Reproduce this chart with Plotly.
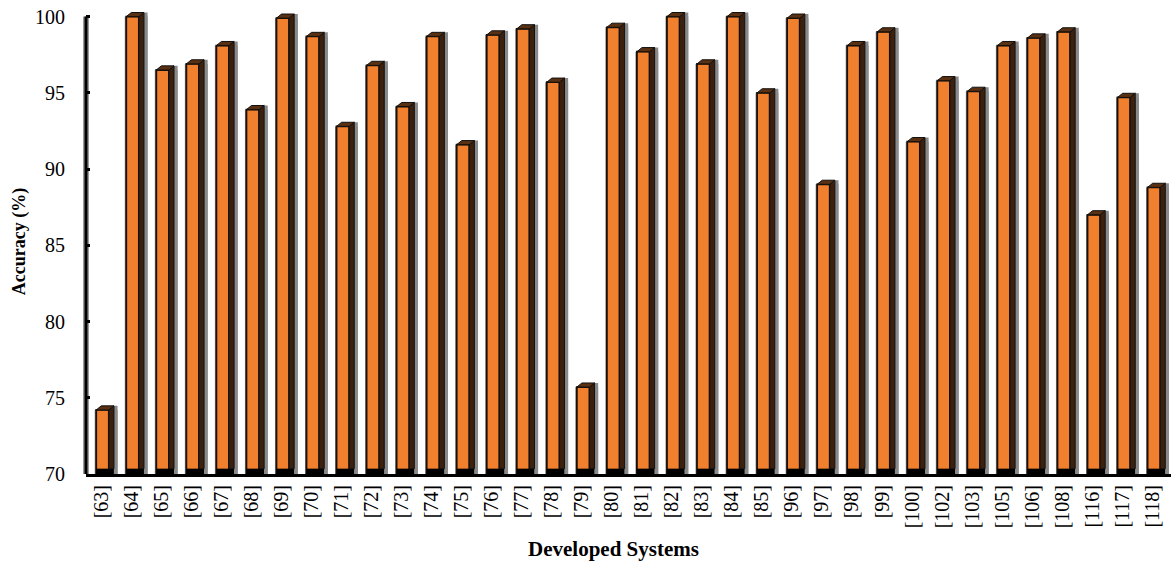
import plotly.graph_objects as go

systems = ["[63]","[64]","[65]","[66]","[67]","[68]","[69]","[70]","[71]","[72]","[73]","[74]","[75]","[76]","[77]","[78]","[79]","[80]","[81]","[82]","[83]","[84]","[85]","[96]","[97]","[98]","[99]","[100]","[102]","[103]","[105]","[106]","[108]","[116]","[117]","[118]"]
accuracy = [74.2,100,96.5,96.9,98.1,93.9,99.9,98.7,92.8,96.8,94.1,98.7,91.6,98.8,99.2,95.7,75.7,99.3,97.7,100,96.9,100,95,99.9,89,98.1,99,91.8,95.8,95.1,98.1,98.6,99,87,94.7,88.8]
y_ticks = [70,75,80,85,90,95,100]

ORANGE = "#F07F2E"
SIDE = "#3B200E"
CAP = "#5A3012"
SHADOW = "#8A8A8A"
FONT = "Liberation Serif"
BAR_W = 0.42
DX = 0.17      # depth along x (category units)
DY = 0.27      # depth along y (percent)
HALO = 0.12
FOOT = 0.35
BASE = 70

idx = list(range(len(systems)))
half = BAR_W / 2

def polys(build):
    xs, ys = [], []
    for i, v in zip(idx, accuracy):
        px, py = build(i, v)
        xs += px + [None]
        ys += py + [None]
    return xs, ys

fig = go.Figure()

# grey halo behind each bar
fig.add_trace(go.Bar(x=[i+(DX+HALO-0.05)/2 for i in idx], y=[v-BASE for v in accuracy], base=BASE,
                     width=BAR_W+DX+HALO+0.05,
                     marker=dict(color=SHADOW, line=dict(width=0)), showlegend=False, hoverinfo="skip"))

# front face
fig.add_trace(go.Bar(x=idx, y=[v-BASE for v in accuracy], base=BASE, width=BAR_W,
                     marker=dict(color=ORANGE, line=dict(color="#1A1008", width=1.8)),
                     showlegend=False, hovertemplate="%{text}: %{y}%<extra></extra>", text=systems,
                     textposition="none"))

# black foot of each bar
fig.add_trace(go.Bar(x=[i+DX/2 for i in idx], y=[FOOT]*len(idx), base=BASE, width=BAR_W+DX,
                     marker=dict(color="#000000", line=dict(width=0)),
                     showlegend=False, hoverinfo="skip"))

# halo strip to the right of the side face
sx, sy = polys(lambda i, v: (
    [i+half+DX, i+half+DX, i+half+DX+HALO, i+half+DX+HALO, i+half+DX],
    [BASE, v+DY, v+DY, BASE, BASE]))
fig.add_trace(go.Scatter(x=sx, y=sy, mode="lines", fill="toself", fillcolor=SHADOW,
                         line=dict(width=0), hoverinfo="skip", showlegend=False))

# right side face
sx, sy = polys(lambda i, v: (
    [i+half, i+half, i+half+DX, i+half+DX, i+half],
    [BASE+FOOT, v, v+DY, BASE+FOOT, BASE+FOOT]))
fig.add_trace(go.Scatter(x=sx, y=sy, mode="lines", fill="toself", fillcolor=SIDE,
                         line=dict(width=1, color="#111111"), hoverinfo="skip", showlegend=False))

# top cap
sx, sy = polys(lambda i, v: (
    [i-half, i-half+DX, i+half+DX, i+half, i-half],
    [v, v+DY, v+DY, v, v]))
fig.add_trace(go.Scatter(x=sx, y=sy, mode="lines", fill="toself", fillcolor=CAP,
                         line=dict(width=1, color="#111111"), hoverinfo="skip", showlegend=False))

# vertical axis: grey halo and black line, stopping at the top tick
fig.add_shape(type="line", xref="paper", yref="y", x0=0, x1=0, y0=70, y1=100,
              line=dict(color="#9A9A9A", width=6), layer="below")
fig.add_shape(type="line", xref="paper", yref="y", x0=0, x1=0, y0=70, y1=100,
              line=dict(color="black", width=3), layer="above")

# horizontal axis title, centred under the reference's position
fig.add_annotation(text="<b>Developed Systems</b>", xref="paper", yref="paper",
                   x=(613-86)/1085, y=-(550-474.5)/465.5, showarrow=False,
                   xanchor="center", yanchor="middle", font=dict(size=21, family=FONT))

fig.update_layout(
    barmode="overlay",
    width=1171, height=564,
    margin=dict(l=86, r=0, t=9, b=89.5),
    paper_bgcolor="white", plot_bgcolor="rgba(0,0,0,0)",
    font=dict(family=FONT, color="black"),
    xaxis=dict(range=[-0.55, 35.57], tickmode="array", tickvals=[i-0.05 for i in idx], ticktext=systems,
               tickangle=-90, tickfont=dict(size=20, family=FONT), ticks="", ticklen=0,
               showgrid=False, zeroline=False, showline=True, linecolor="black", linewidth=3),
    yaxis=dict(range=[70, 100.5], tickmode="array", tickvals=y_ticks,
               tickfont=dict(size=20, family=FONT), ticks="inside", ticklen=4, tickwidth=3, tickcolor="black",
               ticklabelstandoff=20,
               showgrid=False, zeroline=False, showline=False,
               title=dict(text="<b>Accuracy (%)</b>", font=dict(size=18, family=FONT), standoff=4)),
)

fig.write_html("out.html", config={"displayModeBar": False},
               post_script="document.body.style.margin='0';document.body.style.overflow='hidden';")
